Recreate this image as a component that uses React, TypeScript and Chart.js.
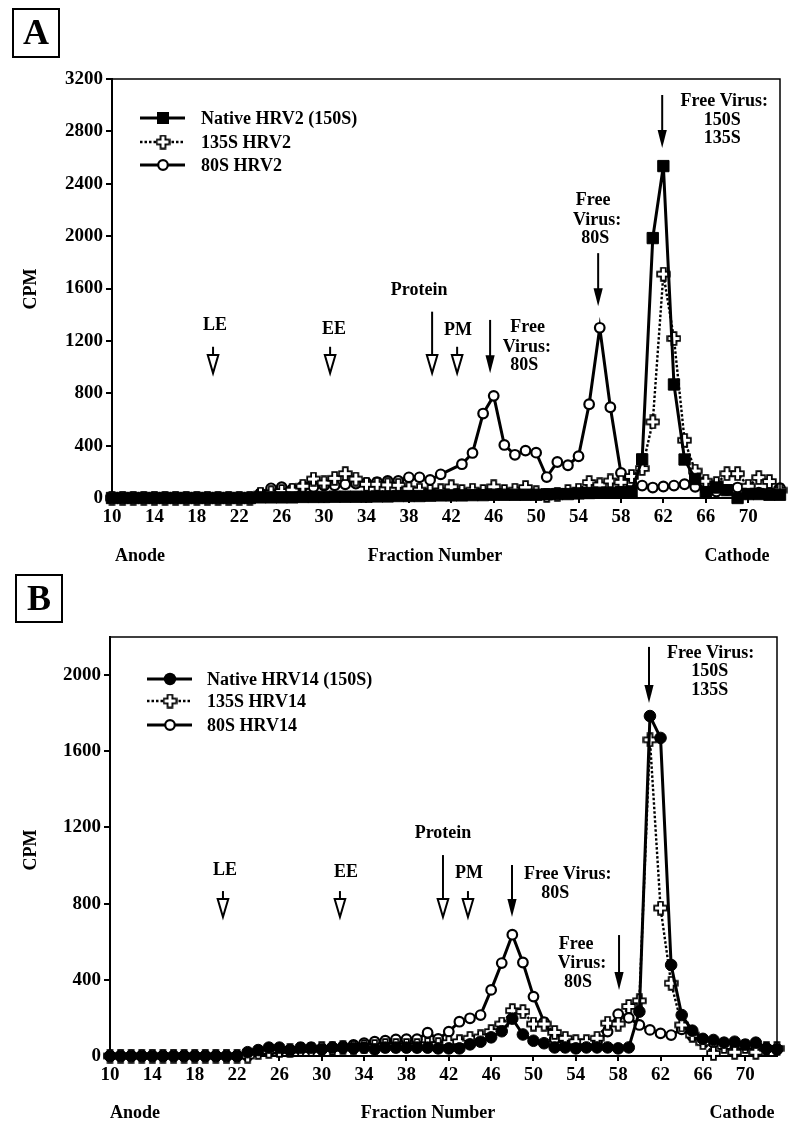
import React, { useEffect, useRef } from "react";
import { Chart, registerables } from "chart.js";

Chart.register(...registerables);

const FONT = '"Liberation Serif", "Times New Roman", Times, serif';

// ---------- data ----------
const fractions = [
  10, 11, 12, 13, 14, 15, 16, 17, 18, 19,
  20, 21, 22, 23, 24, 25, 26, 27, 28, 29,
  30, 31, 32, 33, 34, 35, 36, 37, 38, 39,
  40, 41, 42, 43, 44, 45, 46, 47, 48, 49,
  50, 51, 52, 53, 54, 55, 56, 57, 58, 59,
  60, 61, 62, 63, 64, 65, 66, 67, 68, 69,
  70, 71, 72, 73,
];
const xTickValues = [10, 14, 18, 22, 26, 30, 34, 38, 42, 46, 50, 54, 58, 62, 66, 70];
const yTickValuesA = [0, 400, 800, 1200, 1600, 2000, 2400, 2800, 3200];
const yTickValuesB = [0, 400, 800, 1200, 1600, 2000];

const seriesNamesA = ["Native HRV2 (150S)", "135S HRV2", "80S HRV2"];
const seriesNamesB = ["Native HRV14 (150S)", "135S HRV14", "80S HRV14"];

// Panel A
const nativeHRV2 = [
  0, 0, 0, 0, 0, 0, 0, 0, 0, 0,
  0, 0, 0, 0, 5, 5, 5, 5, 8, 8,
  8, 10, 10, 10, 10, 12, 12, 15, 15, 15,
  18, 20, 20, 20, 22, 22, 25, 25, 25, 25,
  25, 28, 30, 30, 35, 38, 40, 40, 45, 50,
  295, 1985, 2535, 867, 294, 145, 45, 80, 60, 0,
  30, 30, 25, 25,
];
const hrv2_135S = [
  0, 0, 0, 0, 0, 0, 0, 0, 0, 0,
  0, 0, 0, 0, 30, 40, 50, 60, 90, 145,
  115, 150, 186, 145, 105, 105, 100, 97, 70, 60,
  50, 55, 85, 50, 60, 50, 85, 50, 60, 80,
  40, 20, 30, 50, 60, 118, 100, 130, 120, 165,
  225, 581, 1710, 1218, 441, 206, 128, 110, 186, 186,
  90, 156, 126, 60,
];
const hrv2_80S = [
  0, 0, 0, 0, 0, 0, 0, 0, 0, 0,
  0, 0, 0, 0, 36, 74, 82, 67, 90, 84,
  95, 97, 105, 110, 115, 122, 130, 130, 158, 158,
  138, 181, null, 258, 344, 645, 780, 405, 330, 362,
  346, 160, 275, 250, 319, 716, 1300, 693, 191, 110,
  95, 80, 88, 95, 105, 85, 60, 50, 60, 80,
  50, 40, 40, 75,
];

// Panel B
const nativeHRV14 = [
  0, 0, 0, 0, 0, 0, 0, 0, 0, 0,
  0, 0, 0, 20, 31, 44, 44, 31, 44, 44,
  35, 44, 44, 40, 44, 35, 44, 44, 44, 44,
  44, 40, 40, 40, 61, 75, 98, 130, 196, 113,
  80, 67, 45, 45, 40, 45, 45, 45, 40, 45,
  233, 1785, 1670, 478, 215, 133, 90, 84, 70, 75,
  60, 70, 40, 35,
];
const hrv14_135S = [
  0, 0, 0, 0, 0, 0, 0, 0, 0, 0,
  0, 0, 0, 0, 20, 25, 30, 30, 35, 35,
  40, 40, 45, 45, 50, 50, 55, 55, 55, 55,
  60, 60, 70, 75, 93, 100, 128, 168, 238, 233,
  168, 168, 124, 93, 75, 75, 93, 172, 168, 260,
  290, 1660, 777, 382, 163, 110, 70, 14, 50, 20,
  50, 20, 40, 40,
];
const hrv14_80S = [
  0, 0, 0, 0, 0, 0, 0, 0, 0, 0,
  0, 0, 0, 0, 20, 25, 30, 30, 35, 35,
  40, 45, 50, 58, 68, 75, 80, 87, 88, 88,
  122, 90, 128, 180, 198, 215, 347, 488, 637, 491,
  312, 178, 90, 60, 50, 50, 70, 128, 220, 200,
  163, 137, 119, 110, 140, 105, 80, 70, 60, 60,
  55, 50, 40, 35,
];

// Annotations (fraction, CPM)
const arrowFractionsA = [19.53, 30.57, 40.19, 42.55, 45.66, 55.85, 61.89];
const arrowTopA = [1155, 1155, 1423, 1155, 1360, 1870, 3078];
const arrowTipA = [954, 954, 954, 954, 952, 1465, 2673];
const arrowHollowA = [true, true, true, true, false, false, false];
const labelTextA = ["LE", "EE", "Protein", "PM", "Free", "Virus:", "80S", "Free", "Virus:", "80S", "Free Virus:", "150S", "135S"];
const labelFractionA = [19.72, 30.94, 38.96, 42.64, 49.2, 49.12, 48.87, 55.38, 55.75, 55.57, 67.74, 67.55, 67.55];
const labelCpmA = [1320, 1290, 1588, 1282, 1300, 1154, 1014, 2274, 2121, 1984, 3033, 2888, 2743];

const arrowFractionsB = [20.67, 31.72, 41.45, 43.81, 47.97, 58.08, 60.91];
const arrowTopB = [866, 866, 1055, 866, 1003, 635, 2148];
const arrowTipB = [730, 730, 730, 730, 730, 347, 1853];
const arrowHollowB = [true, true, true, true, false, false, false];
const labelTextB = ["LE", "EE", "Protein", "PM", "Free Virus:", "80S", "Free", "Virus:", "80S", "Free Virus:", "150S", "135S"];
const labelFractionB = [20.86, 32.29, 41.45, 43.91, 53.23, 52.06, 54.02, 54.58, 54.2, 66.73, 66.64, 66.64];
const labelCpmB = [977, 966, 1171, 961, 954, 854, 588, 487, 387, 2116, 2018, 1922];

// ---------- helpers ----------
function makeCross(): HTMLCanvasElement {
  const c = document.createElement("canvas");
  const s = 15;
  c.width = s;
  c.height = s;
  const g = c.getContext("2d")!;
  const m = s / 2;
  const a = 2.4;
  const L = 6.3;
  g.beginPath();
  g.moveTo(m - a, m - L);
  g.lineTo(m + a, m - L);
  g.lineTo(m + a, m - a);
  g.lineTo(m + L, m - a);
  g.lineTo(m + L, m + a);
  g.lineTo(m + a, m + a);
  g.lineTo(m + a, m + L);
  g.lineTo(m - a, m + L);
  g.lineTo(m - a, m + a);
  g.lineTo(m - L, m + a);
  g.lineTo(m - L, m - a);
  g.lineTo(m - a, m - a);
  g.closePath();
  g.fillStyle = "#fff";
  g.fill();
  g.lineWidth = 1.8;
  g.strokeStyle = "#000";
  g.stroke();
  return c;
}

interface PanelCfg {
  letter: string;
  height: number;
  left: number;
  right: number;
  top: number;
  bottom: number;
  yMax: number;
  yTicks: number[];
  names: string[];
  series: (number | null)[][];
  nativeStyle: "rect" | "circle";
  legendRows: number[];
  legendLine: [number, number];
  legendMarkerX: number;
  legendTextX: number;
  box: [number, number, number, number];
  cpmY: number;
  bottomLabelY: number;
  anodeX: number;
  fractionX: number;
  cathodeX: number;
  arrowF: number[];
  arrowTop: number[];
  arrowTip: number[];
  arrowHollow: boolean[];
  labelText: string[];
  labelF: number[];
  labelV: number[];
}

function drawMarker(ctx: CanvasRenderingContext2D, kind: string, x: number, y: number, cross: HTMLCanvasElement) {
  ctx.save();
  ctx.strokeStyle = "#000";
  ctx.fillStyle = "#000";
  if (kind === "rect") {
    ctx.fillRect(x - 6, y - 6, 12, 12);
  } else if (kind === "dot") {
    ctx.beginPath();
    ctx.arc(x, y, 6.2, 0, Math.PI * 2);
    ctx.fill();
  } else if (kind === "open") {
    ctx.beginPath();
    ctx.arc(x, y, 4.8, 0, Math.PI * 2);
    ctx.fillStyle = "#fff";
    ctx.fill();
    ctx.lineWidth = 2.2;
    ctx.stroke();
  } else {
    ctx.drawImage(cross, x - cross.width / 2, y - cross.height / 2);
  }
  ctx.restore();
}

function makePlugin(cfg: PanelCfg, cross: HTMLCanvasElement) {
  return {
    id: "annot" + cfg.letter,
    afterDraw(chart: any) {
      const ctx: CanvasRenderingContext2D = chart.ctx;
      const { left, right, top, bottom } = chart.chartArea;
      const xs = chart.scales.x;
      const ys = chart.scales.y;
      ctx.save();
      ctx.strokeStyle = "#000";
      ctx.fillStyle = "#000";
      // frame top/right
      ctx.lineWidth = 1.5;
      ctx.beginPath();
      ctx.moveTo(left - 1, top);
      ctx.lineTo(right, top);
      ctx.lineTo(right, bottom);
      ctx.stroke();

      // letter box
      const [bx, by, bw, bh] = cfg.box;
      ctx.lineWidth = 2;
      ctx.strokeRect(bx, by, bw, bh);
      ctx.font = `bold 36px ${FONT}`;
      ctx.textAlign = "center";
      ctx.textBaseline = "middle";
      ctx.fillText(cfg.letter, bx + bw / 2, by + bh / 2 + 2);

      // y title
      ctx.font = `bold 18px ${FONT}`;
      ctx.save();
      ctx.translate(31, cfg.cpmY);
      ctx.rotate(-Math.PI / 2);
      ctx.fillText("CPM", 0, 0);
      ctx.restore();

      // bottom labels
      ctx.fillText("Anode", cfg.anodeX, cfg.bottomLabelY);
      ctx.fillText("Fraction Number", cfg.fractionX, cfg.bottomLabelY);
      ctx.fillText("Cathode", cfg.cathodeX, cfg.bottomLabelY);

      // legend
      const kinds = [cfg.nativeStyle === "rect" ? "rect" : "dot", "cross", "open"];
      cfg.names.forEach((name, i) => {
        const y = cfg.legendRows[i];
        ctx.save();
        ctx.lineWidth = i === 1 ? 2.4 : 3;
        ctx.setLineDash(i === 1 ? [2.5, 2] : []);
        ctx.beginPath();
        ctx.moveTo(cfg.legendLine[0], y);
        ctx.lineTo(cfg.legendLine[1], y);
        ctx.stroke();
        ctx.restore();
        drawMarker(ctx, kinds[i], cfg.legendMarkerX, y, cross);
        ctx.font = `bold 18px ${FONT}`;
        ctx.textAlign = "left";
        ctx.textBaseline = "middle";
        ctx.fillText(name, cfg.legendTextX, y + 1);
      });

      // arrows
      cfg.arrowF.forEach((f, i) => {
        const x = xs.getPixelForValue(f);
        const yTop = ys.getPixelForValue(cfg.arrowTop[i]);
        const yTip = ys.getPixelForValue(cfg.arrowTip[i]);
        const headLen = 18;
        const headHalf = cfg.arrowHollow[i] ? 5.3 : 4.6;
        const yHead = yTip - headLen;
        ctx.lineWidth = 2;
        ctx.setLineDash([]);
        ctx.beginPath();
        ctx.moveTo(x, yTop);
        ctx.lineTo(x, yHead + 1);
        ctx.stroke();
        ctx.beginPath();
        ctx.moveTo(x - headHalf, yHead);
        ctx.lineTo(x + headHalf, yHead);
        ctx.lineTo(x, yTip);
        ctx.closePath();
        if (cfg.arrowHollow[i]) {
          ctx.fillStyle = "#fff";
          ctx.fill();
          ctx.lineWidth = 2;
          ctx.stroke();
          ctx.fillStyle = "#000";
        } else {
          ctx.fill();
        }
      });

      // labels
      ctx.font = `bold 18px ${FONT}`;
      ctx.textAlign = "center";
      ctx.textBaseline = "middle";
      cfg.labelText.forEach((t, i) => {
        ctx.fillText(t, xs.getPixelForValue(cfg.labelF[i]), ys.getPixelForValue(cfg.labelV[i]));
      });
      ctx.restore();
    },
  };
}

function Panel({ cfg }: { cfg: PanelCfg }) {
  const ref = useRef<HTMLCanvasElement>(null);
  useEffect(() => {
    if (!ref.current) return;
    const cross = makeCross();
    const mk = (vals: (number | null)[]) => fractions.map((f, i) => ({ x: f, y: vals[i] }));
    const native =
      cfg.nativeStyle === "rect"
        ? { pointStyle: "rect", pointRadius: 8, pointBorderWidth: 1, pointBackgroundColor: "#000" }
        : { pointStyle: "circle", pointRadius: 5.8, pointBorderWidth: 1, pointBackgroundColor: "#000" };
    const chart = new Chart(ref.current, {
      type: "line",
      data: {
        datasets: [
          {
            label: cfg.names[0],
            data: mk(cfg.series[0]),
            borderColor: "#000",
            borderWidth: 3,
            pointBorderColor: "#000",
            ...native,
            order: 0,
            clip: false,
          } as any,
          {
            label: cfg.names[1],
            data: mk(cfg.series[1]),
            borderColor: "#000",
            borderWidth: 2.4,
            borderDash: [2.5, 2],
            pointStyle: cross,
            pointRadius: 6,
            order: 1,
            clip: false,
          } as any,
          {
            label: cfg.names[2],
            data: mk(cfg.series[2]),
            borderColor: "#000",
            borderWidth: 3,
            pointStyle: "circle",
            pointRadius: 4.8,
            pointBorderWidth: 2.2,
            pointBorderColor: "#000",
            pointBackgroundColor: "#fff",
            spanGaps: true,
            order: 2,
            clip: false,
          } as any,
        ],
      },
      options: {
        responsive: false,
        animation: false,
        devicePixelRatio: 1,
        events: [],
        layout: { padding: { left: 0, top: cfg.top, right: 800 - cfg.right, bottom: 0 } },
        plugins: { legend: { display: false }, tooltip: { enabled: false }, title: { display: false } },
        scales: {
          x: {
            type: "linear",
            min: 10,
            max: 73,
            afterFit: (s: any) => {
              s.height = cfg.height - cfg.bottom;
            },
            afterBuildTicks: (s: any) => {
              s.ticks = xTickValues.map((v) => ({ value: v }));
            },
            border: { display: true, color: "#000", width: 2 },
            grid: { display: true, drawOnChartArea: false, drawTicks: true, tickLength: 5, color: "#000", lineWidth: 2 },
            ticks: {
              color: "#000",
              font: { family: FONT, size: 19, weight: "bold" },
              padding: 3,
              maxRotation: 0,
              autoSkip: false,
              callback: (v: any) => String(v),
            },
          },
          y: {
            type: "linear",
            min: 0,
            max: cfg.yMax,
            afterFit: (s: any) => {
              s.width = cfg.left;
            },
            afterBuildTicks: (s: any) => {
              s.ticks = cfg.yTicks.map((v) => ({ value: v }));
            },
            border: { display: true, color: "#000", width: 2 },
            grid: { display: true, drawOnChartArea: false, drawTicks: true, tickLength: 6, color: "#000", lineWidth: 2 },
            ticks: {
              color: "#000",
              font: { family: FONT, size: 19, weight: "bold" },
              padding: 3,
              autoSkip: false,
              callback: (v: any) => String(v),
            },
          },
        },
      } as any,
      plugins: [makePlugin(cfg, cross)],
    });
    return () => chart.destroy();
  }, [cfg]);
  return <canvas ref={ref} width={800} height={cfg.height} style={{ display: "block", width: 800, height: cfg.height }} />;
}

const cfgA: PanelCfg = {
  letter: "A",
  height: 570,
  left: 112,
  right: 780,
  top: 79,
  bottom: 498,
  yMax: 3200,
  yTicks: yTickValuesA,
  names: seriesNamesA,
  series: [nativeHRV2, hrv2_135S, hrv2_80S],
  nativeStyle: "rect",
  legendRows: [118, 142, 165],
  legendLine: [140, 185],
  legendMarkerX: 163,
  legendTextX: 201,
  box: [13, 9, 46, 48],
  cpmY: 289,
  bottomLabelY: 556,
  anodeX: 140,
  fractionX: 435,
  cathodeX: 737,
  arrowF: arrowFractionsA,
  arrowTop: arrowTopA,
  arrowTip: arrowTipA,
  arrowHollow: arrowHollowA,
  labelText: labelTextA,
  labelF: labelFractionA,
  labelV: labelCpmA,
};

const cfgB: PanelCfg = {
  letter: "B",
  height: 569,
  left: 110,
  right: 777,
  top: 67,
  bottom: 486,
  yMax: 2200,
  yTicks: yTickValuesB,
  names: seriesNamesB,
  series: [nativeHRV14, hrv14_135S, hrv14_80S],
  nativeStyle: "circle",
  legendRows: [109, 131, 155],
  legendLine: [147, 192],
  legendMarkerX: 170,
  legendTextX: 207,
  box: [16, 5, 46, 47],
  cpmY: 280,
  bottomLabelY: 543,
  anodeX: 135,
  fractionX: 428,
  cathodeX: 742,
  arrowF: arrowFractionsB,
  arrowTop: arrowTopB,
  arrowTip: arrowTipB,
  arrowHollow: arrowHollowB,
  labelText: labelTextB,
  labelF: labelFractionB,
  labelV: labelCpmB,
};

export default function App() {
  return (
    <div style={{ position: "absolute", left: 0, top: 0, width: 800, height: 1139, background: "#fff" }}>
      <Panel cfg={cfgA} />
      <Panel cfg={cfgB} />
    </div>
  );
}
